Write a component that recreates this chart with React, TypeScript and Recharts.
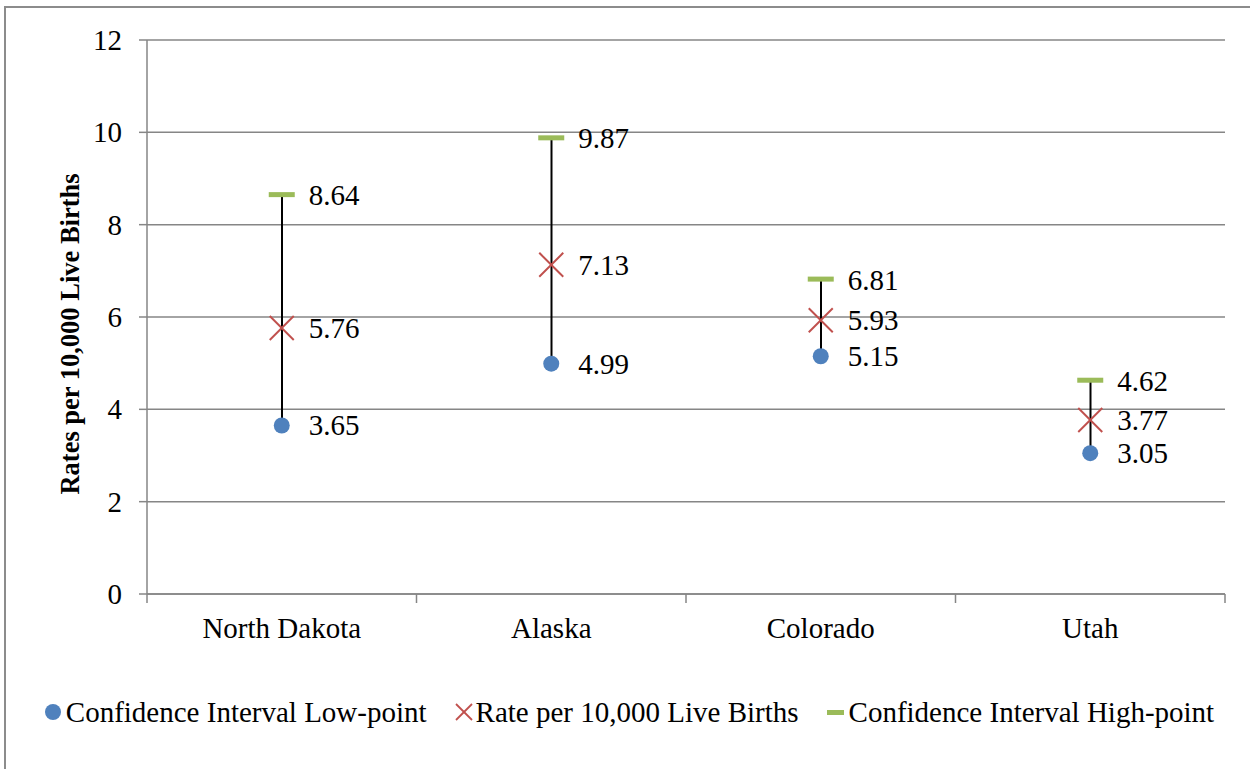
import React from "react";
import {
  ComposedChart,
  Bar,
  Line,
  XAxis,
  YAxis,
  CartesianGrid,
  LabelList,
} from "recharts";

const categories = ["North Dakota", "Alaska", "Colorado", "Utah"];
const lowPoints = [3.65, 4.99, 5.15, 3.05];
const rates = [5.76, 7.13, 5.93, 3.77];
const highPoints = [8.64, 9.87, 6.81, 4.62];
const yTicks = [0, 2, 4, 6, 8, 10, 12];

const FONT = "'Liberation Serif', 'Times New Roman', serif";
const GRID = "#868686";
const BLUE = "#4f81bd";
const RED = "#c0504d";
const GREEN = "#9bbb59";
const FS = 29;

// categories sit at half-step positions so tick marks fall between them
const data = categories.map((name, i) => ({
  name,
  x: i + 0.5,
  low: lowPoints[i],
  rate: rates[i],
  high: highPoints[i],
  range: [lowPoints[i], highPoints[i]],
}));

const xTicks = [0, 0.5, 1, 1.5, 2, 2.5, 3, 3.5, 4];

const LowDot = (props: any) => {
  const { cx, cy } = props;
  if (cx == null || cy == null) return null;
  return <circle cx={cx} cy={cy} r={8} fill={BLUE} />;
};

const RateDot = (props: any) => {
  const { cx, cy } = props;
  if (cx == null || cy == null) return null;
  const s = 12;
  return (
    <g stroke={RED} strokeWidth={2}>
      <line x1={cx - s} y1={cy - s} x2={cx + s} y2={cy + s} />
      <line x1={cx - s} y1={cy + s} x2={cx + s} y2={cy - s} />
    </g>
  );
};

const HighDot = (props: any) => {
  const { cx, cy } = props;
  if (cx == null || cy == null) return null;
  return <rect x={cx - 13} y={cy - 3} width={26} height={5} fill={GREEN} />;
};

const valueLabel = (props: any) => {
  const { x, y, value } = props;
  return (
    <text
      x={x + 27}
      y={y + 10}
      fontSize={FS}
      fontFamily={FONT}
      fill="#000"
    >
      {value.toFixed(2)}
    </text>
  );
};

const XTick = (props: any) => {
  const { x, y, payload } = props;
  const v = payload.value;
  if (Number.isInteger(v)) {
    return <line x1={x} y1={y - 8} x2={x} y2={y + 1} stroke={GRID} strokeWidth={1.5} />;
  }
  return (
    <text
      x={x}
      y={y + 36}
      textAnchor="middle"
      fontSize={FS}
      fontFamily={FONT}
      fill="#000"
    >
      {categories[Math.floor(v)]}
    </text>
  );
};

const YTick = (props: any) => {
  const { x, y, payload } = props;
  return (
    <text
      x={x}
      y={y + 10}
      textAnchor="end"
      fontSize={FS}
      fontFamily={FONT}
      fill="#000"
    >
      {payload.value}
    </text>
  );
};

const YLabel = (props: any) => {
  const { viewBox } = props;
  const cx = 70;
  const cy = viewBox.y + viewBox.height / 2 + 17;
  return (
    <text
      x={cx}
      y={cy}
      transform={`rotate(-90, ${cx}, ${cy})`}
      textAnchor="middle"
      dominantBaseline="central"
      fontSize={26.5}
      fontWeight="bold"
      fontFamily={FONT}
      fill="#000"
    >
      Rates per 10,000 Live Births
    </text>
  );
};

const legendItems = [
  { label: "Confidence Interval Low-point", kind: "low" },
  { label: "Rate per 10,000 Live Births", kind: "rate" },
  { label: "Confidence Interval High-point", kind: "high" },
];

const LegendIcon = ({ kind }: { kind: string }) => {
  if (kind === "low")
    return (
      <svg width={18} height={18} style={{ marginRight: 4 }}>
        <circle cx={9} cy={9} r={8} fill={BLUE} />
      </svg>
    );
  if (kind === "rate")
    return (
      <svg width={20} height={20} style={{ marginRight: 2 }}>
        <line x1={2} y1={2} x2={18} y2={18} stroke={RED} strokeWidth={1.8} />
        <line x1={2} y1={18} x2={18} y2={2} stroke={RED} strokeWidth={1.8} />
      </svg>
    );
  return (
    <svg width={20} height={18} style={{ marginRight: 3 }}>
      <rect x={1} y={7} width={17} height={5} fill={GREEN} />
    </svg>
  );
};

export default function App() {
  return (
    <div
      style={{
        position: "absolute",
        left: 0,
        top: 0,
        width: 1250,
        height: 769,
        overflow: "hidden",
        background: "#fff",
      }}
    >
      <div
        style={{
          position: "absolute",
          left: 4,
          top: 6,
          width: 1400,
          height: 900,
          border: "2px solid #8c8c8c",
        }}
      />
      <ComposedChart
        width={1250}
        height={769}
        data={data}
        margin={{ top: 40, right: 25, left: 0, bottom: 115 }}
        style={{ position: "absolute", left: 0, top: 0 }}
      >
        <CartesianGrid vertical={false} stroke={GRID} strokeWidth={1.5} />
        <XAxis
          dataKey="x"
          type="number"
          domain={[0, 4]}
          ticks={xTicks}
          interval={0}
          tick={<XTick />}
          tickLine={false}
          axisLine={{ stroke: GRID, strokeWidth: 1.5 }}
          height={60}
        />
        <YAxis
          domain={[0, 12]}
          ticks={yTicks}
          interval={0}
          width={147}
          tick={<YTick />}
          tickLine={{ stroke: GRID, strokeWidth: 1.5 }}
          tickSize={8}
          tickMargin={17}
          axisLine={{ stroke: GRID, strokeWidth: 1.5 }}
          label={<YLabel />}
        />
        <Bar dataKey="range" barSize={2} fill="#000" isAnimationActive={false} />
        <Line
          dataKey="low"
          stroke="none"
          dot={<LowDot />}
          activeDot={false}
          isAnimationActive={false}
        >
          <LabelList dataKey="low" content={valueLabel} />
        </Line>
        <Line
          dataKey="rate"
          stroke="none"
          dot={<RateDot />}
          activeDot={false}
          isAnimationActive={false}
        >
          <LabelList dataKey="rate" content={valueLabel} />
        </Line>
        <Line
          dataKey="high"
          stroke="none"
          dot={<HighDot />}
          activeDot={false}
          isAnimationActive={false}
        >
          <LabelList dataKey="high" content={valueLabel} />
        </Line>
      </ComposedChart>
      <div
        style={{
          position: "absolute",
          left: -6,
          width: 1270,
          top: 694,
          display: "flex",
          justifyContent: "center",
          gap: 27,
          fontFamily: FONT,
          fontSize: FS,
          lineHeight: "36px",
          color: "#000",
          whiteSpace: "nowrap",
        }}
      >
        {legendItems.map((it) => (
          <div key={it.kind} style={{ display: "flex", alignItems: "center" }}>
            <LegendIcon kind={it.kind} />
            <span>{it.label}</span>
          </div>
        ))}
      </div>
    </div>
  );
}
